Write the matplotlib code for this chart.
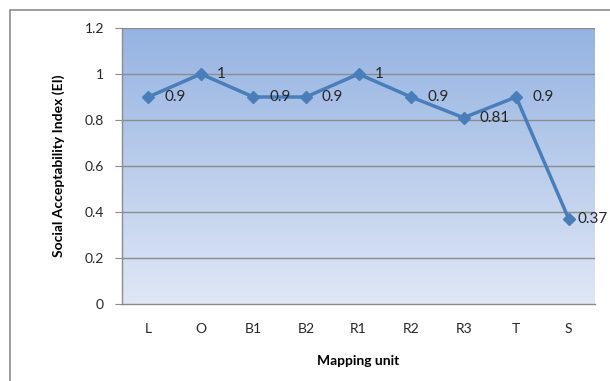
import numpy as np
import matplotlib
matplotlib.use("Agg")
import matplotlib.pyplot as plt
from matplotlib.colors import LinearSegmentedColormap
from matplotlib.patches import Rectangle

categories = ["L", "O", "B1", "B2", "R1", "R2", "R3", "T", "S"]
values = [0.9, 1.0, 0.9, 0.9, 1.0, 0.9, 0.81, 0.9, 0.37]
labels = ["0.9", "1", "0.9", "0.9", "1", "0.9", "0.81", "0.9", "0.37"]
yticks = [0, 0.2, 0.4, 0.6, 0.8, 1.0, 1.2]
ytick_labels = ["0", "0.2", "0.4", "0.6", "0.8", "1", "1.2"]

plt.rcParams['font.family'] = ['Lato', 'DejaVu Sans']

fig = plt.figure(figsize=(6.10, 3.81), dpi=100)
fig.patch.set_facecolor("white")
# outer chart border
fig.add_artist(Rectangle((10/610, -0.1), 1.2, 1 - 10/381 + 0.1, transform=fig.transFigure,
                         fill=False, edgecolor="#8c8c8c", linewidth=1.2))

ax = fig.add_axes([122/610, 1 - 304/381, (595 - 122)/610, (304 - 28)/381])
ax.set_xlim(-0.5, len(categories) - 0.5)
ax.set_ylim(0, 1.2)

cmap = LinearSegmentedColormap.from_list("g", ["#dfe7f5", "#95b3e2"])
grad = np.linspace(0, 1, 256).reshape(-1, 1)
ax.imshow(grad, cmap=cmap, origin="lower", aspect="auto",
          extent=[-0.5, len(categories) - 0.5, 0, 1.2], zorder=0)

for y in yticks[1:]:
    ax.axhline(y, color="#8c8c8c", linewidth=1.0, zorder=1)

x = np.arange(len(categories))
ax.plot(x, values, color="#4a7ebb", linewidth=2.5, marker="D", markersize=6.5,
        markerfacecolor="#4a7ebb", markeredgecolor="#4a7ebb", zorder=3)

texts = []
for xi, v, lab in zip(x, values, labels):
    t = ax.annotate(lab, (xi, v), xytext=(11.5, 0), textcoords="offset points",
                    va="center", ha="left", fontsize=11, color="#262626", zorder=4,
                    annotation_clip=False)
    texts.append(t)

ax.set_xticks(x)
ax.set_xticklabels(categories, fontsize=10, color="#262626")
ax.set_yticks(yticks)
ax.set_yticklabels(ytick_labels, fontsize=10, color="#262626")
ax.tick_params(axis="x", length=0, pad=14)
ax.tick_params(axis="y", length=5, color="#8c8c8c", pad=8)

for s in ["top", "right"]:
    ax.spines[s].set_visible(False)
for s in ["left", "bottom"]:
    ax.spines[s].set_color("#8c8c8c")
    ax.spines[s].set_linewidth(1.0)

ax.set_xlabel("Mapping unit", fontsize=10, fontweight="bold", labelpad=14)
ax.set_ylabel("Social Acceptability Index (EI)", fontsize=10, fontweight="bold", labelpad=14)

# keep data labels inside the figure (like Excel does)
fig.canvas.draw()
renderer = fig.canvas.get_renderer()
W = fig.bbox.width
for t in texts:
    bb = t.get_window_extent(renderer)
    if bb.x1 > W - 2:
        shift_px = bb.x1 - (W - 2)
        ox, oy = t.xyann
        t.xyann = (ox - shift_px * 72 / fig.dpi, oy)

fig.savefig("out.png", dpi=100)
